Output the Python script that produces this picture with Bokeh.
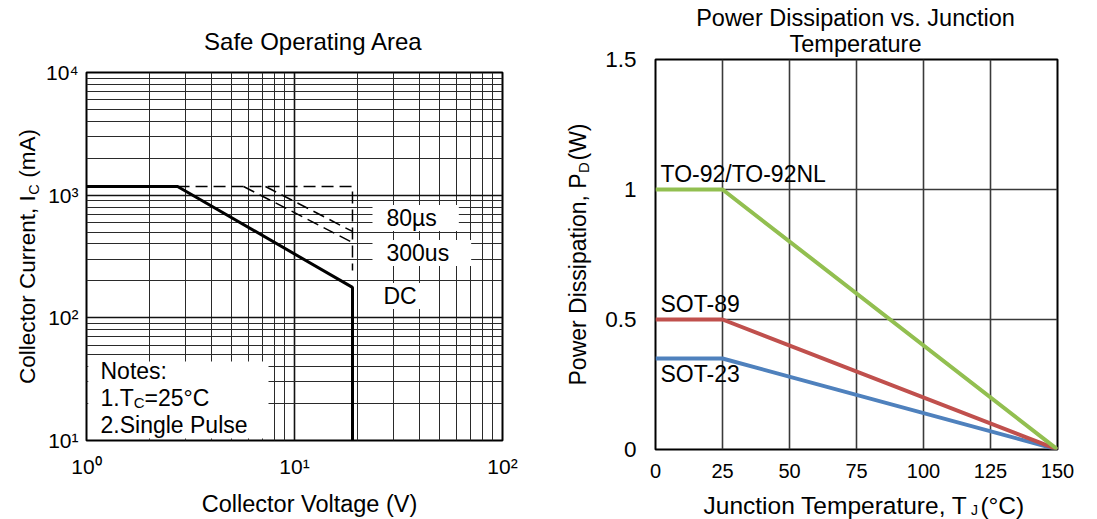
import math
from bokeh.plotting import figure
from bokeh.models import FixedTicker, Label, BoxAnnotation, NumeralTickFormatter
from bokeh.layouts import row, column
from bokeh.embed import file_html
from bokeh.resources import INLINE

FONT = "Liberation Sans"

# ---------------- Safe Operating Area (left) ----------------
soa_x_ticks = [1, 10, 100]
soa_x_tick_labels = ["10⁰", "10¹", "10²"]
soa_y_ticks = [10, 100, 1000, 10000]
soa_y_tick_labels = ["10¹", "10²", "10³", "10⁴"]

dc_voltage = [1.0, 2.74, 19.0, 19.0]
dc_current = [1177, 1177, 177, 10]
pulse_env_voltage = [2.74, 19.0, 19.0]
pulse_env_current = [1177, 1177, 243]
pulse_80us_voltage = [7.25, 19.0]
pulse_80us_current = [1177, 506]
pulse_300us_voltage = [5.69, 19.0]
pulse_300us_current = [1177, 411]

# ---------------- Power dissipation (right) ----------------
tj = [0, 25, 150]
pd_to92 = [1.0, 1.0, 0.0]
pd_sot89 = [0.5, 0.5, 0.0]
pd_sot23 = [0.35, 0.35, 0.0]
pd_x_ticks = [0, 25, 50, 75, 100, 125, 150]
pd_y_ticks = [0, 0.5, 1.0, 1.5]

# ---------------- layout constants (canvas pixels) ----------------
L_FRAME = dict(left=86, top=72, width=416, height=368)
R_FRAME = dict(left=655, top=59, width=402, height=390)


def soa_pos(px, py):
    """canvas pixel -> SOA data coordinates (log/log, 1..100 x 10..1e4)"""
    fx = (px - L_FRAME["left"]) / L_FRAME["width"]
    fy = (L_FRAME["top"] + L_FRAME["height"] - py) / L_FRAME["height"]
    return 10 ** (0 + 2 * fx), 10 ** (1 + 3 * fy)


def pd_pos(px, py):
    fx = (px - R_FRAME["left"]) / R_FRAME["width"]
    fy = (R_FRAME["top"] + R_FRAME["height"] - py) / R_FRAME["height"]
    return 150 * fx, 1.5 * fy


def lab(p, x, y, text, size, angle=0.0, align="left", baseline="middle",
        bg=None, pad=None, units="screen", place="center"):
    kw = dict(x=x, y=y, x_units=units, y_units=units, text=text,
              text_font=FONT, text_font_size=f"{size}px", text_color="black",
              angle=angle, text_align=align, text_baseline=baseline)
    if bg is not None:
        kw.update(background_fill_color=bg, background_fill_alpha=1.0)
    if pad is not None:
        kw["padding"] = pad
    p.add_layout(Label(**kw), place)


# ======== left figure ========
p1 = figure(x_axis_type="log", y_axis_type="log", x_range=(1, 100), y_range=(10, 10000),
            frame_width=L_FRAME["width"], frame_height=L_FRAME["height"],
            min_border_left=86, min_border_right=38, min_border_top=72, min_border_bottom=79,
            output_backend="svg", toolbar_location=None)
p1.outline_line_color = "black"
p1.outline_line_width = 2
p1.background_fill_color = "white"
p1.border_fill_color = "white"

minor_x = [m * 10 ** k for k in (0, 1) for m in range(2, 10)]
minor_y = [m * 10 ** k for k in (1, 2, 3) for m in range(2, 10)]
xt = FixedTicker(ticks=soa_x_ticks, minor_ticks=minor_x)
yt = FixedTicker(ticks=soa_y_ticks, minor_ticks=minor_y)
p1.xaxis.ticker = xt
p1.yaxis.ticker = yt
p1.xgrid.ticker = xt
p1.ygrid.ticker = yt
p1.xaxis.major_label_overrides = dict(zip(soa_x_ticks, soa_x_tick_labels))
p1.yaxis.major_label_overrides = dict(zip(soa_y_ticks, soa_y_tick_labels))

for ax in (p1.xaxis, p1.yaxis):
    ax.axis_line_color = None
    ax.major_tick_line_color = None
    ax.minor_tick_line_color = None
    ax.major_label_text_font = FONT
    ax.major_label_text_font_size = "21px"
    ax.major_label_text_color = "black"
p1.xaxis.major_label_standoff = 8
p1.yaxis.major_label_standoff = 2
p1.yaxis.axis_label = "Collector Current, I\u2002\u00a0(mA)"
p1.yaxis.axis_label_text_font = FONT
p1.yaxis.axis_label_text_font_size = "22.5px"
p1.yaxis.axis_label_text_font_style = "normal"
p1.yaxis.axis_label_text_color = "black"
p1.yaxis.axis_label_standoff = 3

for g in (p1.xgrid, p1.ygrid):
    g.grid_line_color = "#111111"
    g.grid_line_width = 1.6
    g.grid_line_alpha = 1.0
    g.minor_grid_line_color = "#2a2a2a"
    g.minor_grid_line_width = 1.0
    g.minor_grid_line_alpha = 1.0

p1.line(pulse_env_voltage, pulse_env_current, line_color="black", line_width=1.5, line_dash="12 6")
p1.line(pulse_80us_voltage, pulse_80us_current, line_color="black", line_width=1.5, line_dash="12 6")
p1.line(pulse_300us_voltage, pulse_300us_current, line_color="black", line_width=1.5, line_dash="12 6")
p1.line(dc_voltage, dc_current, line_color="black", line_width=3)

p1.add_layout(BoxAnnotation(left=1.02, right=7.5, bottom=10.4, top=44,
                            fill_color="white", fill_alpha=1.0, line_alpha=0.0))

pad_lbl = dict(left=14, right=22, top=0, bottom=0)
lab(p1, 286, 222.5, "80µs", 23, bg="white", pad=pad_lbl)
lab(p1, 286, 187.5, "300us", 23, bg="white", pad=pad_lbl)
lab(p1, 284, 144.5, "DC", 23, bg="white", pad=dict(left=13, right=12, top=0, bottom=0))

lab(p1, 14, 70, "Notes:", 23)
lab(p1, 14, 43, "1.T", 23)
lab(p1, 47.2, 38, "C", 15)
lab(p1, 58, 43, "=25°C", 23)
lab(p1, 14, 16, "2.Single Pulse", 23)

# texts outside the frame: labels in side panels, placed in data units
x, y = soa_pos(313, 41)
lab(p1, x, y, "Safe Operating Area", 24, align="center", units="data", place="above")
x, y = soa_pos(309, 503)
lab(p1, x, y, "Collector Voltage (V)", 23.5, align="center", units="data", place="below")
x, y = soa_pos(33.5, 189)
lab(p1, x, y, "C", 14.5, angle=math.pi / 2, align="center", units="data", place="right")

# ======== right figure ========
p2 = figure(x_range=(0, 150), y_range=(0, 1.5),
            frame_width=R_FRAME["width"], frame_height=R_FRAME["height"],
            min_border_left=115, min_border_right=40, min_border_top=59, min_border_bottom=70,
            output_backend="svg", toolbar_location=None)
p2.outline_line_color = "black"
p2.outline_line_width = 2
p2.background_fill_color = "white"
p2.border_fill_color = "white"
p2.xaxis.ticker = FixedTicker(ticks=pd_x_ticks)
p2.yaxis.ticker = FixedTicker(ticks=pd_y_ticks)
p2.xgrid.ticker = FixedTicker(ticks=pd_x_ticks)
p2.ygrid.ticker = FixedTicker(ticks=pd_y_ticks)
p2.yaxis.formatter = NumeralTickFormatter(format="0.[0]")
for ax in (p2.xaxis, p2.yaxis):
    ax.axis_line_color = None
    ax.major_tick_line_color = None
    ax.minor_tick_line_color = None
    ax.major_label_text_font = FONT
    ax.major_label_text_color = "black"
p2.xaxis.major_label_text_font_size = "20px"
p2.yaxis.major_label_text_font_size = "22.5px"
p2.xaxis.major_label_standoff = 8
p2.yaxis.major_label_standoff = 13
p2.yaxis.axis_label = "Power Dissipation, P\u00a0\u00a0(W)"
p2.yaxis.axis_label_text_font = FONT
p2.yaxis.axis_label_text_font_size = "23px"
p2.yaxis.axis_label_text_font_style = "normal"
p2.yaxis.axis_label_text_color = "black"
p2.yaxis.axis_label_standoff = 11
for g in (p2.xgrid, p2.ygrid):
    g.grid_line_color = "#3a3a3a"
    g.grid_line_width = 1.6
    g.grid_line_alpha = 1.0

p2.line(tj, pd_sot23, line_color="#4F81BD", line_width=4)
p2.line(tj, pd_sot89, line_color="#C0504D", line_width=4)
p2.line(tj, pd_to92, line_color="#92BF50", line_width=4)

lab(p2, 5, 276, "TO-92/TO-92NL", 23)
lab(p2, 5, 145.5, "SOT-89", 23)
lab(p2, 5, 75.5, "SOT-23", 23)

x, y = pd_pos(855, 43)
lab(p2, x, y, "Temperature", 23.5, align="center", units="data", place="above")
x, y = pd_pos(855, 17)
lab(p2, x, y, "Power Dissipation vs. Junction", 23.5, align="center", units="data", place="above")
x, y = pd_pos(703, 505)
lab(p2, x, y, "Junction Temperature, T\u00a0\u00a0(°C)", 24.5, units="data", place="below")
x, y = pd_pos(974, 509.5)
lab(p2, x, y, "J", 14, align="center", units="data", place="right")
x, y = pd_pos(582.5, 167)
lab(p2, x, y, "D", 15, angle=math.pi / 2, align="center", units="data", place="right")

layout = row(column(p1), column(p2))
open("out.html", "w").write(file_html(layout, INLINE, title="SOA and power dissipation"))
